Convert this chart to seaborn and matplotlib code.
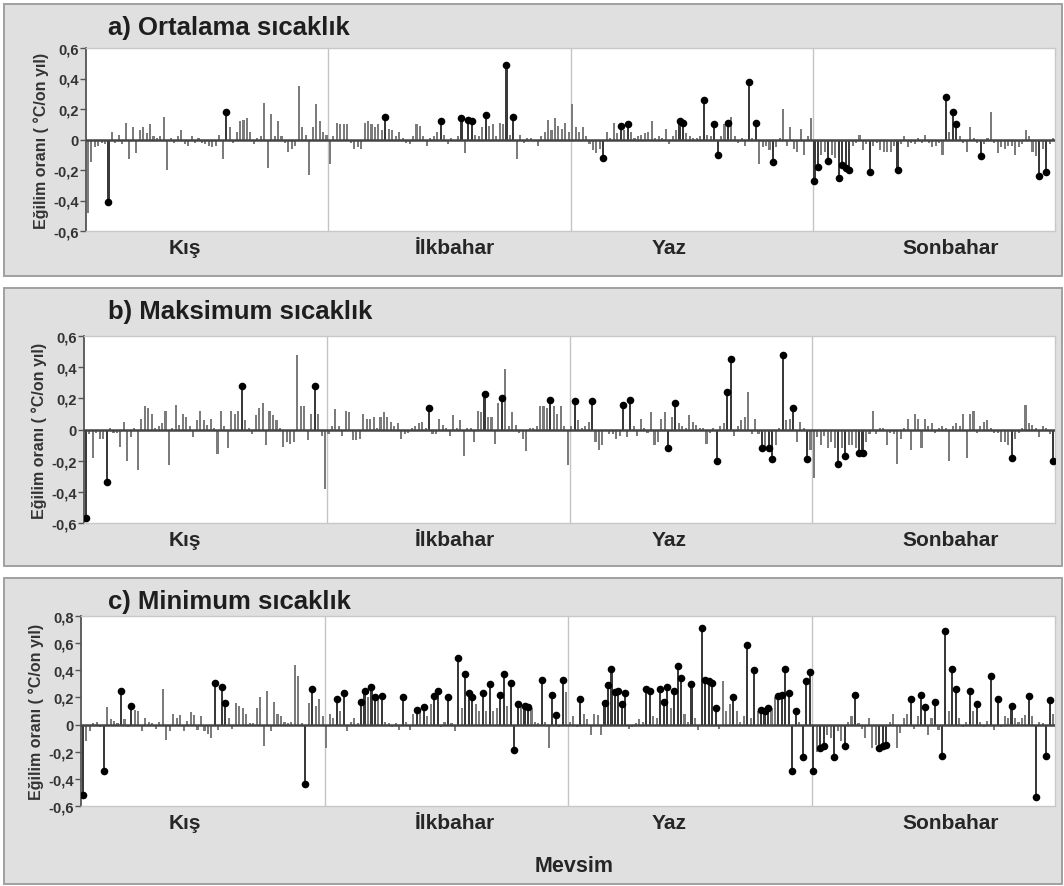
"""
Eğilim oranları: ortalama, maksimum ve minimum sıcaklık, mevsimlere göre
istasyon bazında çubuklar. Anlamlı eğilimler siyah nokta ile işaretlidir.
"""
import matplotlib
matplotlib.use('Agg')
import matplotlib.pyplot as plt
from matplotlib.patches import Rectangle
import pandas as pd
import seaborn as sns

sns.set_theme(style='white')
plt.rcParams['font.family'] = ['Liberation Sans', 'DejaVu Sans']

seasons = ['Kış', 'İlkbahar', 'Yaz', 'Sonbahar']

# a) Ortalama sıcaklık
a_kis = [-0.48, -0.15, -0.05, -0.04, -0.02, -0.03, -0.41, 0.05, -0.02, 0.03,
         -0.03, 0.11, -0.13, 0.08, -0.09, 0.06, 0.08, 0.04, 0.10, 0.02,
         0.01, 0.02, 0.15, -0.20, 0.01, -0.02, 0.02, 0.06, -0.03, -0.04,
         0.02, -0.02, 0.01, -0.02, -0.03, -0.04, -0.05, -0.04, 0.03, -0.13,
         0.18, 0.08, -0.02, 0.05, 0.12, 0.13, 0.14, 0.05, -0.03, 0.01,
         0.02, 0.24, -0.19, 0.17, 0.02, 0.12, 0.02, -0.02, -0.08, -0.06,
         -0.04, 0.35, 0.08, 0.03, -0.23, 0.08, 0.23, 0.12, 0.05, 0.03]
a_ilk = [-0.16, 0.02, 0.11, 0.10, 0.10, 0.10, -0.02, -0.06, -0.05, -0.06,
         0.11, 0.12, 0.10, 0.08, 0.10, 0.06, 0.15, 0.07, 0.06, 0.02,
         0.05, 0.01, -0.02, -0.03, 0.02, 0.10, 0.09, 0.02, -0.04, 0.01,
         0.02, 0.05, 0.12, 0.03, -0.03, 0.01, -0.01, 0.02, 0.14, -0.09,
         0.13, 0.12, 0.03, 0.02, 0.08, 0.16, 0.09, 0.10, 0.02, 0.11,
         0.10, 0.49, 0.03, 0.15, -0.13, 0.03, -0.02, 0.01, 0.01, -0.01,
         -0.04, 0.02, 0.05, 0.13, 0.06, 0.14, 0.09, 0.07, 0.11, 0.05]
a_yaz = [0.23, 0.08, 0.05, 0.08, 0.02, -0.03, -0.07, -0.09, -0.06, -0.12,
         0.05, 0.01, 0.11, 0.04, 0.09, 0.06, 0.10, 0.05, 0.01, 0.02,
         0.03, 0.04, 0.05, 0.12, 0.01, 0.02, 0.01, 0.07, -0.03, 0.02,
         0.06, 0.12, 0.11, 0.04, 0.02, 0.01, 0.01, 0.02, 0.26, 0.03,
         0.02, 0.10, -0.10, 0.02, 0.10, 0.11, 0.15, 0.02, -0.02, 0.01,
         -0.04, 0.38, 0.01, 0.11, -0.16, -0.05, -0.04, -0.07, -0.15, -0.05,
         0.01, 0.20, -0.04, 0.08, -0.06, -0.08, 0.07, -0.10, 0.02, 0.14]
a_son = [-0.27, -0.18, -0.10, -0.08, -0.14, -0.10, -0.12, -0.25, -0.17, -0.19,
         -0.20, -0.04, -0.02, 0.03, -0.07, -0.03, -0.21, -0.04, -0.02, -0.07,
         -0.08, -0.08, -0.08, -0.04, -0.20, -0.03, 0.02, -0.05, -0.02, -0.03,
         0.01, -0.02, 0.03, -0.02, -0.05, -0.04, -0.02, -0.10, 0.28, 0.05,
         0.18, 0.10, 0.02, -0.02, -0.08, 0.08, 0.01, -0.02, -0.11, -0.03,
         0.01, 0.18, -0.02, -0.09, -0.05, -0.06, -0.04, -0.04, -0.10, -0.05,
         -0.03, 0.06, 0.02, -0.08, -0.11, -0.24, -0.06, -0.21, -0.03, 0.01]
a_kis_sig = [6, 40]
a_ilk_sig = [16, 32, 38, 40, 41, 45, 51, 53]
a_yaz_sig = [9, 14, 16, 31, 32, 38, 41, 42, 45, 51, 53, 58]
a_son_sig = [0, 1, 4, 7, 8, 9, 10, 16, 24, 38, 40, 41, 48, 65, 67]

# b) Maksimum sıcaklık
b_kis = [-0.57, -0.03, -0.18, -0.02, -0.06, -0.06, -0.34, 0.01, -0.02, -0.02,
         -0.11, 0.05, -0.20, -0.05, 0.01, -0.26, 0.07, 0.15, 0.14, 0.10,
         0.01, 0.02, 0.04, 0.12, -0.23, 0.01, 0.16, 0.03, 0.10, 0.08,
         0.02, -0.05, 0.06, 0.12, 0.06, 0.03, 0.07, 0.01, -0.16, 0.12,
         0.02, -0.12, 0.12, 0.10, 0.12, 0.28, 0.06, 0.01, -0.03, 0.09,
         0.14, 0.17, -0.10, 0.12, 0.09, 0.06, 0.01, -0.11, -0.08, -0.09,
         -0.08, 0.48, 0.15, 0.15, -0.07, 0.10, 0.28, 0.10, -0.04, -0.38]
b_ilk = [-0.03, 0.02, 0.13, 0.02, -0.04, 0.12, 0.11, -0.07, -0.07, -0.06,
         0.10, 0.07, 0.07, 0.08, 0.01, 0.08, 0.11, 0.08, 0.05, 0.02,
         0.04, -0.06, -0.03, -0.02, 0.01, 0.02, 0.04, 0.05, 0.01, 0.14,
         -0.03, -0.03, 0.07, 0.03, 0.01, -0.04, 0.09, 0.01, 0.06, -0.17,
         0.01, 0.01, -0.08, 0.12, 0.11, 0.23, 0.08, 0.08, -0.09, 0.17,
         0.20, 0.39, 0.02, 0.11, 0.03, -0.02, -0.06, -0.14, 0.01, 0.01,
         0.02, 0.15, 0.15, 0.14, 0.19, 0.15, 0.10, 0.15, 0.02, -0.23]
b_yaz = [0.02, 0.18, 0.06, 0.01, 0.02, 0.05, 0.18, -0.08, -0.13, -0.10,
         -0.01, -0.03, -0.03, -0.06, -0.04, 0.16, -0.05, 0.19, 0.02, -0.04,
         0.07, 0.01, -0.02, 0.11, -0.10, -0.08, 0.07, 0.11, -0.12, 0.08,
         0.17, 0.04, 0.02, 0.01, 0.09, 0.05, 0.03, 0.01, 0.01, -0.09,
         -0.02, 0.01, -0.20, 0.02, 0.04, 0.24, 0.45, -0.04, 0.02, 0.06,
         0.08, 0.24, -0.03, 0.07, -0.03, -0.12, -0.12, -0.12, -0.19, -0.10,
         0.01, 0.48, 0.06, 0.07, 0.14, -0.08, 0.05, 0.01, -0.19, -0.13]
b_son = [-0.31, -0.05, -0.10, -0.04, -0.12, -0.08, -0.12, -0.22, -0.12, -0.17,
         -0.10, -0.10, -0.12, -0.15, -0.15, -0.08, -0.03, 0.12, -0.03, 0.01,
         0.01, -0.10, -0.02, -0.03, -0.22, -0.06, 0.01, 0.07, -0.13, 0.10,
         0.07, -0.12, 0.07, 0.02, 0.04, -0.02, 0.01, 0.02, 0.01, -0.20,
         0.02, 0.04, 0.02, 0.10, -0.18, 0.10, 0.12, -0.02, 0.02, 0.05,
         0.06, 0.01, -0.02, -0.02, -0.08, -0.08, -0.10, -0.18, -0.06, -0.02,
         0.01, 0.16, 0.04, 0.03, 0.01, -0.05, 0.02, 0.01, -0.03, -0.20]
b_kis_sig = [0, 6, 45, 66]
b_ilk_sig = [29, 45, 50, 64]
b_yaz_sig = [1, 6, 15, 17, 28, 30, 42, 45, 46, 55, 57, 58, 61, 64, 68]
b_son_sig = [7, 9, 13, 14, 57, 69]

# c) Minimum sıcaklık
c_kis = [-0.52, -0.12, -0.05, 0.01, 0.02, -0.02, -0.34, 0.13, 0.04, 0.03,
         0.01, 0.25, 0.04, -0.02, 0.14, 0.11, 0.10, -0.05, 0.05, 0.02,
         0.01, -0.03, 0.02, 0.26, -0.11, -0.05, 0.08, 0.05, 0.07, -0.05,
         0.03, 0.09, 0.07, -0.04, 0.06, -0.05, -0.07, -0.10, 0.31, -0.04,
         0.28, 0.16, 0.05, -0.03, 0.16, 0.14, 0.12, 0.08, 0.01, 0.01,
         0.12, 0.20, -0.16, 0.25, -0.05, 0.17, 0.08, 0.06, 0.02, 0.01,
         0.02, 0.44, 0.36, 0.01, -0.44, 0.16, 0.26, 0.14, 0.19, 0.06]
c_ilk = [-0.17, 0.08, 0.05, 0.19, 0.10, 0.23, -0.05, 0.02, 0.05, 0.01,
         0.17, 0.25, 0.20, 0.28, 0.20, 0.19, 0.21, 0.02, 0.01, -0.02,
         0.01, -0.04, 0.20, 0.02, -0.04, 0.08, 0.11, 0.10, 0.13, 0.06,
         0.15, 0.21, 0.25, -0.02, 0.02, 0.20, 0.01, -0.05, 0.49, 0.12,
         0.37, 0.23, 0.20, 0.15, 0.10, 0.23, 0.10, 0.30, 0.10, 0.12,
         0.22, 0.37, 0.14, 0.31, -0.19, 0.15, 0.14, 0.14, 0.13, 0.12,
         0.02, 0.01, 0.33, 0.02, -0.17, 0.22, 0.07, -0.02, 0.33, 0.24]
c_yaz = [0.02, 0.06, -0.02, 0.19, 0.08, 0.04, -0.08, 0.08, 0.07, -0.08,
         0.16, 0.29, 0.41, 0.24, 0.25, 0.15, 0.23, -0.03, -0.02, 0.01,
         0.04, 0.02, 0.26, 0.25, 0.06, 0.05, 0.26, 0.17, 0.28, 0.12,
         0.25, 0.43, 0.34, 0.08, 0.02, 0.30, 0.05, -0.04, 0.71, 0.33,
         0.32, 0.31, 0.12, -0.03, 0.32, 0.10, 0.15, 0.20, 0.10, 0.02,
         0.06, 0.59, 0.05, 0.40, 0.10, 0.11, 0.10, 0.12, 0.12, 0.20,
         0.21, 0.22, 0.41, 0.23, -0.34, 0.10, 0.02, -0.24, 0.32, 0.39]
c_son = [-0.34, -0.20, -0.17, -0.16, -0.08, -0.10, -0.24, -0.05, -0.12, -0.16,
         0.02, 0.06, 0.22, 0.01, -0.03, -0.10, 0.05, -0.17, -0.15, -0.17,
         -0.16, -0.15, 0.02, 0.08, -0.17, -0.06, 0.05, 0.08, 0.19, -0.03,
         0.06, 0.22, 0.13, -0.08, 0.05, 0.17, -0.04, -0.23, 0.69, 0.10,
         0.41, 0.26, 0.05, -0.02, 0.02, 0.25, 0.10, 0.15, 0.02, -0.02,
         0.03, 0.36, -0.04, 0.19, -0.02, 0.06, 0.05, 0.14, 0.05, 0.02,
         0.05, 0.07, 0.21, 0.06, -0.53, 0.02, 0.01, -0.23, 0.18, 0.08]
c_kis_sig = [0, 6, 11, 14, 38, 40, 41, 64, 66]
c_ilk_sig = [3, 5, 10, 11, 13, 14, 16, 22, 26, 28, 31, 32, 35, 38, 40, 41,
             42, 45, 47, 50, 51, 53, 54, 55, 57, 58, 62, 65, 66, 68]
c_yaz_sig = [3, 10, 11, 12, 13, 14, 15, 16, 22, 23, 26, 27, 28, 30, 31, 32,
             35, 38, 39, 40, 41, 42, 47, 51, 53, 55, 56, 57, 60, 61, 62, 63,
             64, 65, 67, 68, 69]
c_son_sig = [0, 2, 3, 6, 9, 12, 19, 20, 21, 28, 31, 32, 35, 37, 38, 40, 41,
             45, 47, 51, 53, 57, 62, 64, 67, 68]

a_ticks = [-0.6, -0.4, -0.2, 0, 0.2, 0.4, 0.6]
b_ticks = [-0.6, -0.4, -0.2, 0, 0.2, 0.4, 0.6]
c_ticks = [-0.6, -0.4, -0.2, 0, 0.2, 0.4, 0.6, 0.8]

W, H = 1064, 887
BAR_GRAY = '#7c7c7c'
SIG_GRAY = '#3a3a3a'
PANEL_BG = '#e0e0e0'
PANEL_EDGE = '#a0a0a0'
TEXT = '#262626'


def fmt(t):
    if abs(t) < 1e-9:
        return '0'
    return ('%.1f' % t).replace('.', ',')


def make_frame(series, sigs):
    """Builds one long table for a panel from the four season lists."""
    rows = []
    n = len(series[0])
    for s, (vals, sig) in enumerate(zip(series, sigs)):
        for i, v in enumerate(vals):
            rows.append({'istasyon': s * n + i, 'egilim': v,
                         'anlamli': i in sig})
    return pd.DataFrame(rows), n


def draw_panel(fig, box, area, title, series, sigs, ticks, mevsim=False):
    """box/area are pixel rects (x0, y0, x1, y1) measured from the top."""
    bx0, by0, bx1, by1 = box
    fig.add_artist(Rectangle((bx0 / W, 1 - by1 / H), (bx1 - bx0) / W,
                             (by1 - by0) / H, transform=fig.transFigure,
                             facecolor=PANEL_BG, edgecolor=PANEL_EDGE,
                             linewidth=1.4, zorder=0))
    x0, y0, x1, y1 = area
    ax = fig.add_axes([x0 / W, 1 - y1 / H, (x1 - x0) / W, (y1 - y0) / H])
    ax.set_facecolor('white')

    df, n = make_frame(series, sigs)
    sns.barplot(data=df, x='istasyon', y='egilim', hue='anlamli',
                palette={False: BAR_GRAY, True: SIG_GRAY}, native_scale=True,
                dodge=False, width=0.6, errorbar=None, legend=False,
                linewidth=0, saturation=1, ax=ax, zorder=2)
    sns.scatterplot(data=df[df['anlamli']], x='istasyon', y='egilim',
                    color='black', s=30, linewidth=0, legend=False, ax=ax,
                    zorder=5)

    total = n * len(series)
    ax.set_xlim(-0.5, total - 0.5)
    ax.set_ylim(ticks[0], ticks[-1])
    ax.axhline(0, color='#444444', linewidth=1.8, zorder=3)
    for k in range(1, len(series)):
        ax.axvline(k * n - 0.5, color='#c4c4c4', linewidth=1, zorder=1)

    # season labels (Excel puts them a bit off the season centres)
    label_px = [185, 455, 669, 951]
    ax.set_xticks([(p - x0) / (x1 - x0) * total - 0.5 for p in label_px])
    ax.set_xticklabels(seasons, fontsize=15, fontweight='bold', color=TEXT)
    ax.tick_params(axis='x', length=0, pad=5)

    ax.set_yticks(ticks)
    ax.set_yticklabels([fmt(t) for t in ticks], fontsize=10.5,
                       fontweight='bold', color='#333333')
    ax.tick_params(axis='y', left=True, length=4, width=1, color='#555555',
                   direction='out', pad=1)
    ax.set_xlabel('')
    ax.set_ylabel('Eğilim oranı ( °C/on yıl)', fontsize=11.5,
                  fontweight='bold', color='#333333', labelpad=3)

    for side in ['top', 'right', 'bottom']:
        ax.spines[side].set_color('#c8c8c8')
        ax.spines[side].set_linewidth(1)
    ax.spines['left'].set_color('#555555')
    ax.spines['left'].set_linewidth(1.3)

    fig.text(108 / W, 1 - (by0 + 23) / H, title, fontsize=18.5,
             fontweight='bold', color='#1e1e1e', va='center', ha='left')
    if mevsim:
        fig.text(574 / W, 1 - 867 / H, 'Mevsim', fontsize=15.5,
                 fontweight='bold', color=TEXT, va='center', ha='center')
    return ax


fig = plt.figure(figsize=(W / 100, H / 100), dpi=100)
fig.patch.set_facecolor('white')

draw_panel(fig, (4, 5, 1062, 277), (86, 49, 1055, 232),
           'a) Ortalama sıcaklık', [a_kis, a_ilk, a_yaz, a_son],
           [a_kis_sig, a_ilk_sig, a_yaz_sig, a_son_sig], a_ticks)
draw_panel(fig, (4, 289, 1062, 567), (84, 337, 1055, 524),
           'b) Maksimum sıcaklık', [b_kis, b_ilk, b_yaz, b_son],
           [b_kis_sig, b_ilk_sig, b_yaz_sig, b_son_sig], b_ticks)
draw_panel(fig, (4, 579, 1062, 885), (81, 617, 1055, 807),
           'c) Minimum sıcaklık', [c_kis, c_ilk, c_yaz, c_son],
           [c_kis_sig, c_ilk_sig, c_yaz_sig, c_son_sig], c_ticks,
           mevsim=True)

fig.savefig('out.png', dpi=100)
